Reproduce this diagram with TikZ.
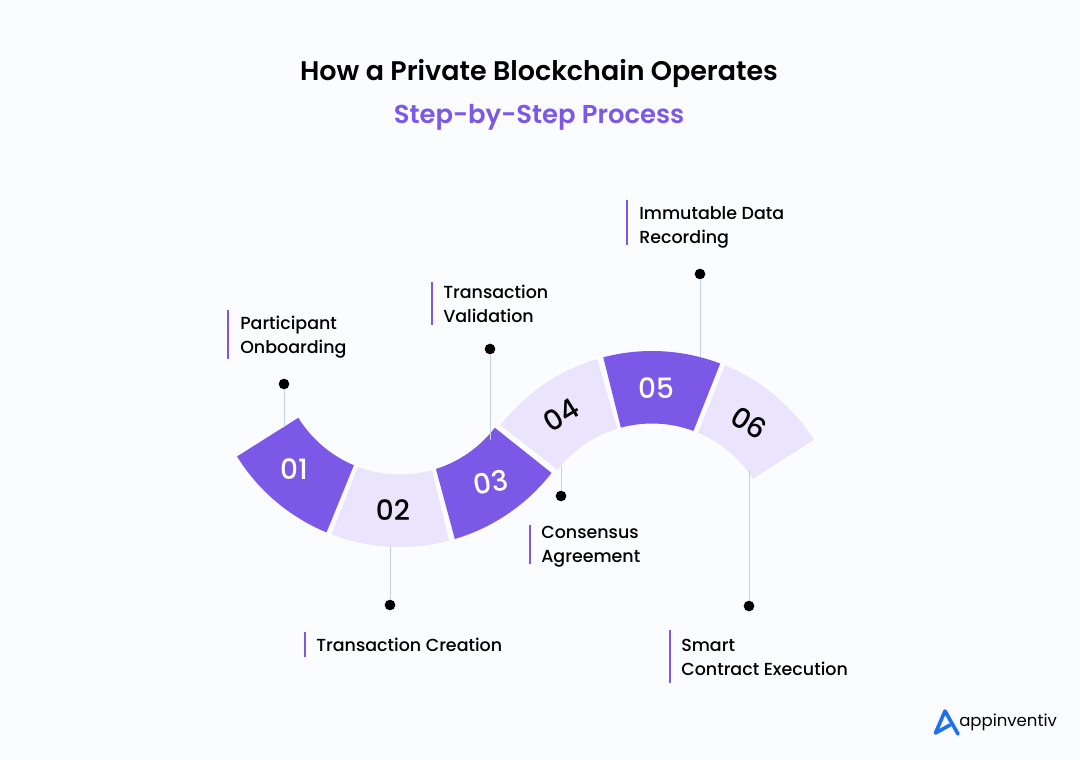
\documentclass[tikz,border=0pt]{standalone}
\usepackage{fontspec}
\setmainfont{Poppins}[BoldFont={Poppins SemiBold}]
\newfontfamily\medfont{Poppins Medium}
\newcommand{\segment}[7]{% center x, center y, ia, ib, oa, ob, style
  \fill[#7] (#1,#2) ++(#3:119.5) arc[start angle=#3,end angle=#4,radius=119.5]
    -- ($(#1,#2)+(#6:192)$) arc[start angle=#6,end angle=#5,radius=192] -- cycle;}
\usetikzlibrary{calc}
\definecolor{bgc}{HTML}{FBFCFF}
\definecolor{purp}{HTML}{7B58E6}
\definecolor{lite}{HTML}{EBE4FD}
\definecolor{leader}{HTML}{C3D0E6}
\definecolor{logob}{HTML}{1F6FF2}
\tikzset{
  x=0.75pt,y=-0.75pt,
  dark/.style={fill=purp},
  light/.style={fill=lite},
  numw/.style={text=white,font=\medfont\fontsize{21}{21}\selectfont,inner sep=0pt},
  numb/.style={text=black,font=\medfont\fontsize{21}{21}\selectfont,inner sep=0pt},
  dot/.style={circle,fill=black,minimum size=8pt,inner sep=0pt},
  lead/.style={draw=leader,line width=0.75pt},
  bar/.style={draw=purp,line width=1.2pt},
  lab/.style={anchor=west,align=left,inner sep=0pt,font=\medfont\fontsize{13.1}{18}\selectfont},
}
\begin{document}
\begin{tikzpicture}
\useasboundingbox[fill=bgc] (0,0) rectangle (1080,760);
\node[inner sep=0pt,font=\bfseries\fontsize{20.2}{20.2}\selectfont] (title) at (539,73) {How a Private Blockchain Operates};
\node[inner sep=0pt,text=purp,font=\bfseries\fontsize{19.4}{19.4}\selectfont] (sub) at (539,117) {Step-by-Step Process};
% segments (screen y grows downward, so angles are measured clockwise on screen)
\segment{400}{355}{148.3}{112.7}{148.1}{112.5}{dark}
\segment{400}{355}{110.7}{74.5}{110.9}{75.2}{light}
\segment{400}{355}{72.5}{37.5}{73.4}{37.9}{dark}
\segment{652}{543}{217.8}{253.1}{217.9}{253.4}{light}
\segment{652}{543}{254.9}{290.3}{255.3}{290.8}{dark}
\segment{652}{543}{292.7}{327.5}{292.3}{327.5}{light}
\node[numw] (n1) at (294,469) {01};
\node[numb] (n2) at (393,510) {02};
\node[numw,rotate=10] (n3) at (491,482) {03};
\node[numb,rotate=32] (n4) at (561,415) {04};
\node[numw] (n5) at (656,388) {05};
\node[numb,rotate=-32] (n6) at (749,423) {06};
\coordinate (e1) at (284,427);
\coordinate (e2) at (390,546);
\coordinate (e3) at (490,440);
\coordinate (e4) at (561,466);
\coordinate (e5) at (700,357);
\coordinate (e6) at (749,470);
\node[dot] (d1) at (284,384) {};
\node[dot] (d2) at (390,605) {};
\node[dot] (d3) at (490,349) {};
\node[dot] (d4) at (561,496) {};
\node[dot] (d5) at (700,274) {};
\node[dot] (d6) at (749,606) {};
\foreach \i in {1,...,6} \draw[lead] (d\i) -- (e\i);
% labels
\coordinate (b1a) at (228,310); \coordinate (b1b) at (228,359);
\coordinate (b2a) at (305,632); \coordinate (b2b) at (305,657);
\coordinate (b3a) at (432,282); \coordinate (b3b) at (432,325);
\coordinate (b4a) at (530,525); \coordinate (b4b) at (530,564);
\coordinate (b5a) at (627,200); \coordinate (b5b) at (627,245);
\coordinate (b6a) at (670,630); \coordinate (b6b) at (670,683);
\foreach \i in {1,...,6} \draw[bar] (b\i a) -- (b\i b);
\node[lab] (l1) at (240,337) {Participant\\Onboarding};
\node[lab] (l2) at (316,645) {Transaction Creation};
\node[lab] (l3) at (443,304) {Transaction\\Validation};
\node[lab] (l4) at (541,547) {Consensus\\Agreement};
\node[lab] (l5) at (639,227) {Immutable Data\\Recording};
\node[lab] (l6) at (681,657) {Smart\\Contract Execution};
% logo
\draw[logob,line width=2.7pt,line cap=round,line join=round] (935.5,733) -- (945,711) -- (958,734);
\draw[logob,line width=2.7pt,line cap=round,line join=round] (935.5,733) -- (950,725);
\node[inner sep=0pt,anchor=west,font=\fontsize{12.4}{12.4}\selectfont] (logo) at (959,722) {appinventiv};
\end{tikzpicture}
\end{document}
